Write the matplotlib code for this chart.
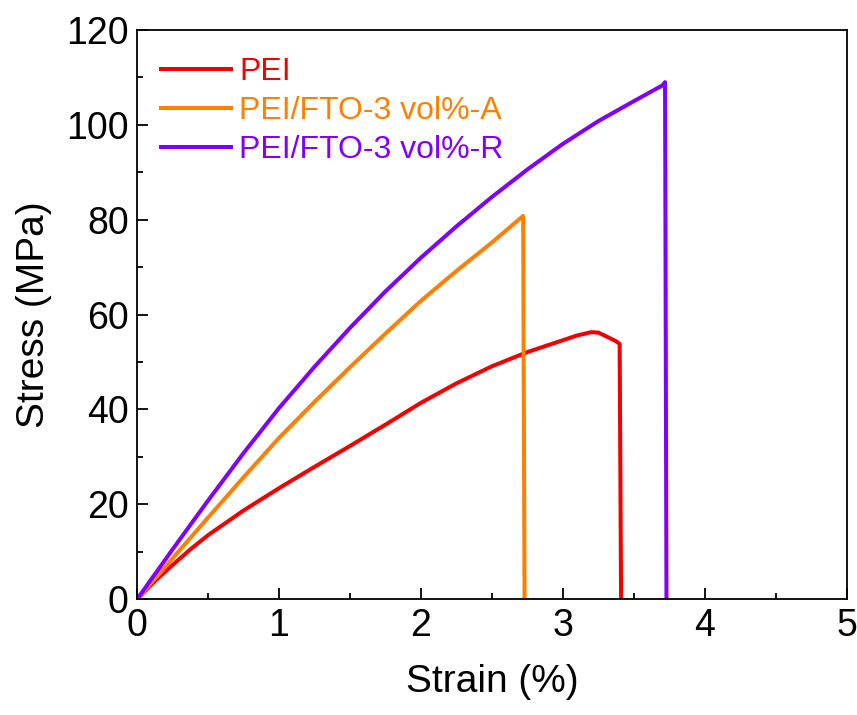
import numpy as np
import matplotlib
matplotlib.use("Agg")
import matplotlib.pyplot as plt
from matplotlib.ticker import MultipleLocator

plt.rcParams["font.family"] = ["Liberation Sans", "DejaVu Sans"]

# PEI
pei_strain = [0, 0.125, 0.25, 0.375, 0.5, 0.75, 1.0, 1.25, 1.5, 1.75, 2.0, 2.25, 2.5, 2.75,
              3.0, 3.1, 3.2, 3.25, 3.3, 3.38, 3.4, 3.41]
pei_stress = [0, 3.8, 7.2, 10.5, 13.5, 18.7, 23.4, 27.9, 32.3, 36.8, 41.4, 45.5, 49.1, 52.1,
              54.6, 55.6, 56.3, 56.2, 55.5, 54.3, 53.8, 0]

# PEI/FTO-3 vol%-A
a_strain = [0, 0.25, 0.5, 0.75, 1.0, 1.25, 1.5, 1.75, 2.0, 2.25, 2.5, 2.72, 2.73]
a_stress = [0, 8.6, 17.2, 25.7, 34, 41.6, 48.9, 56, 62.9, 69.2, 75.2, 80.8, 0]

# PEI/FTO-3 vol%-R
r_strain = [0, 0.25, 0.5, 0.75, 1.0, 1.25, 1.5, 1.75, 2.0, 2.25, 2.5, 2.75,
            3.0, 3.25, 3.5, 3.7, 3.72, 3.73]
r_stress = [0, 10.5, 20.8, 30.8, 40.3, 49, 57.2, 64.9, 72, 78.6, 84.8, 90.6,
            96, 100.8, 105, 108.3, 109, 0]

labels = ["PEI", "PEI/FTO-3 vol%-A", "PEI/FTO-3 vol%-R"]
colors = ["#F00000", "#FF8000", "#8000FF"]

fig = plt.figure(figsize=(8.57, 7.15), dpi=100)
ax = fig.add_axes([0.16, 0.162, 0.828, 0.796])

series = [(pei_strain, pei_stress), (a_strain, a_stress), (r_strain, r_stress)]
for (x, y), lab, c in zip(series, labels, colors):
    ax.plot(x, y, color=c, lw=2.9, label=lab, solid_joinstyle="round")

ax.set_xlim(0, 5)
ax.set_ylim(0, 120)
ax.xaxis.set_major_locator(MultipleLocator(1))
ax.xaxis.set_minor_locator(MultipleLocator(0.5))
ax.yaxis.set_major_locator(MultipleLocator(20))
ax.yaxis.set_minor_locator(MultipleLocator(10))
ax.tick_params(which="both", direction="in", labelsize=27, width=1.3)
ax.tick_params(which="major", length=8, pad=6)
ax.tick_params(which="minor", length=4.5)
for s in ax.spines.values():
    s.set_linewidth(1.3)

ax.set_xlabel("Strain (%)", fontsize=28, labelpad=15)
ax.set_ylabel("Stress (MPa)", fontsize=28, labelpad=10)

leg = ax.legend(loc="upper left", frameon=False, fontsize=23,
                handlelength=2.2, handletextpad=0.25, labelspacing=0.28,
                borderaxespad=0.45, bbox_to_anchor=(-0.005, 1.0))
for txt, c in zip(leg.get_texts(), colors):
    txt.set_color(c)

fig.savefig("out.png", dpi=100)
